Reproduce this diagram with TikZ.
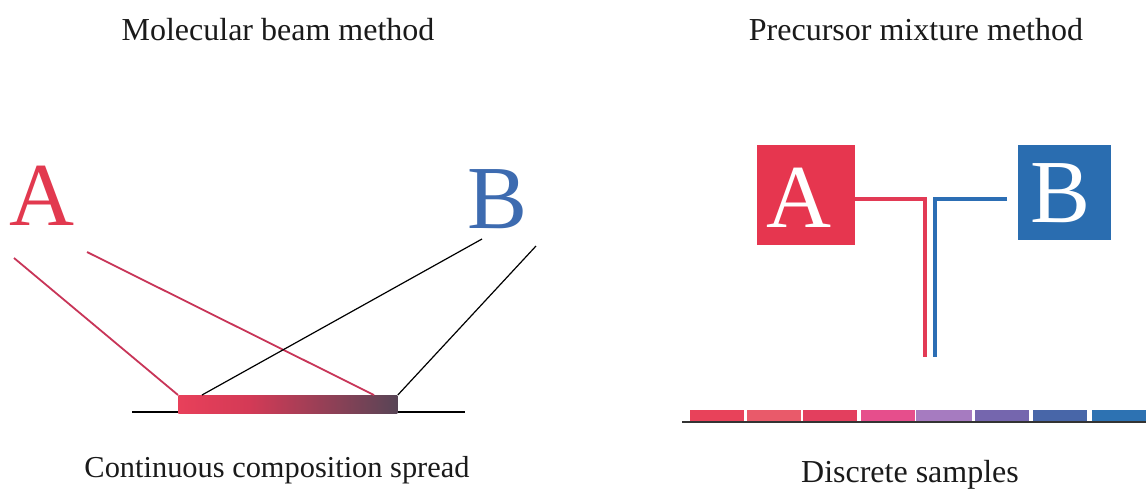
\documentclass[tikz,border=0pt]{standalone}
\usepackage{fontspec}
\setmainfont{Liberation Serif}
\definecolor{txt}{HTML}{1A1A1A}
\definecolor{ared}{HTML}{E2394F}
\definecolor{bblue}{HTML}{3D6BB0}
\definecolor{boxred}{HTML}{E6364F}
\definecolor{boxblue}{HTML}{2A6DB0}
\definecolor{linered}{HTML}{C83558}
\definecolor{barred}{HTML}{E8405A}
\definecolor{barmid}{HTML}{D43A56}
\definecolor{bardark}{HTML}{584556}
\definecolor{pipered}{HTML}{E23A55}
\definecolor{pipeblue}{HTML}{2C6EB4}
\definecolor{sA}{HTML}{E8425A}
\definecolor{sB}{HTML}{E95A6A}
\definecolor{sC}{HTML}{E33F5E}
\definecolor{sD}{HTML}{E64E8C}
\definecolor{sE}{HTML}{A67BC0}
\definecolor{sF}{HTML}{7566AE}
\definecolor{sG}{HTML}{4866A8}
\definecolor{sH}{HTML}{2D72B2}
\pgfdeclarehorizontalshading{barshade}{100bp}{color(0bp)=(barred); color(25bp)=(barred); color(41bp)=(barmid); color(75bp)=(bardark); color(100bp)=(bardark)}
\begin{document}
\begin{tikzpicture}[x=0.5pt,y=-0.5pt,
  title/.style={anchor=base,inner sep=0pt,text=txt,font=\fontsize{16}{19}\selectfont},
  bigletter/.style={anchor=base,inner sep=0pt,font=\fontsize{45}{50}\selectfont},
  beamred/.style={draw=linered,line width=0.9pt},
  beamblack/.style={draw=black,line width=0.6pt},
  srcbox/.style={minimum width=49pt,minimum height=50pt,inner sep=0pt,text=white},
  pipe/.style={line width=1.8pt},
  sample/.style={minimum width=27pt,minimum height=5.5pt,inner sep=0pt,anchor=north west}]
\useasboundingbox (0,0) rectangle (1146,488);
\fill[white] (0,0) rectangle (1146,488);
% titles
\node[title] (t1) at (278,40) {Molecular beam method};
\node[title] (t2) at (916,40) {Precursor mixture method};
\node[title,font=\fontsize{15.2}{18}\selectfont] (t3) at (277,477) {Continuous composition spread};
\node[title] (t4) at (910,482) {Discrete samples};
% left: molecular beam
\node[bigletter,text=ared] (A) at (42,225) {A};
\node[bigletter,text=bblue] (B) at (498,228) {B};
\coordinate (a1) at (14,258);
\coordinate (a2) at (87,252);
\coordinate (b1) at (482,239);
\coordinate (b2) at (536,246);
\coordinate (g1) at (132,412);
\coordinate (g2) at (465,412);
\draw[black,line width=0.6pt] (g1) -- (g2);
\node[shade,shading=barshade,minimum width=109.5pt,minimum height=9pt,inner sep=0pt,anchor=north west] (bar) at (178,395) {};
\coordinate (e1) at (bar.north west);
\coordinate (e2) at (374,395);
\coordinate (e3) at (202,395);
\coordinate (e4) at (bar.north east);
\draw[beamred] (a1) -- (e1);
\draw[beamred] (a2) -- (e2);
\draw[beamblack] (b1) -- (e3);
\draw[beamblack] (b2) -- (e4);
% right: precursor mixture
\node[srcbox,fill=boxred,anchor=north west] (BA) at (757,145) {};
\node[bigletter,text=white] (LA) at (799,227) {A};
\node[srcbox,fill=boxblue,minimum width=46.5pt,minimum height=47.5pt,anchor=north west] (BB) at (1018,145) {};
\node[bigletter,text=white] (LB) at (1061,222) {B};
\coordinate (ra) at (855,199);
\coordinate (rc) at (925,199);
\coordinate (rd) at (925,357);
\coordinate (ba) at (1007,199);
\coordinate (bc) at (935,199);
\coordinate (bd) at (935,357);
\draw[pipe,pipered] (ra) -- (rc) -- (rd);
\draw[pipe,pipeblue] (ba) -- (bc) -- (bd);
% samples
\coordinate (s0) at (682,422);
\coordinate (s9) at (1146,422);
\node[sample,fill=sA] (p1) at (690,410) {};
\node[sample,fill=sB] (p2) at (747,410) {};
\node[sample,fill=sC] (p3) at (803,410) {};
\node[sample,fill=sD] (p4) at (861,410) {};
\node[sample,fill=sE,minimum width=28pt] (p5) at (916,410) {};
\node[sample,fill=sF] (p6) at (975,410) {};
\node[sample,fill=sG] (p7) at (1033,410) {};
\node[sample,fill=sH] (p8) at (1092,410) {};
\draw[black!80,line width=0.8pt] (s0) -- (s9);
\end{tikzpicture}
\end{document}
